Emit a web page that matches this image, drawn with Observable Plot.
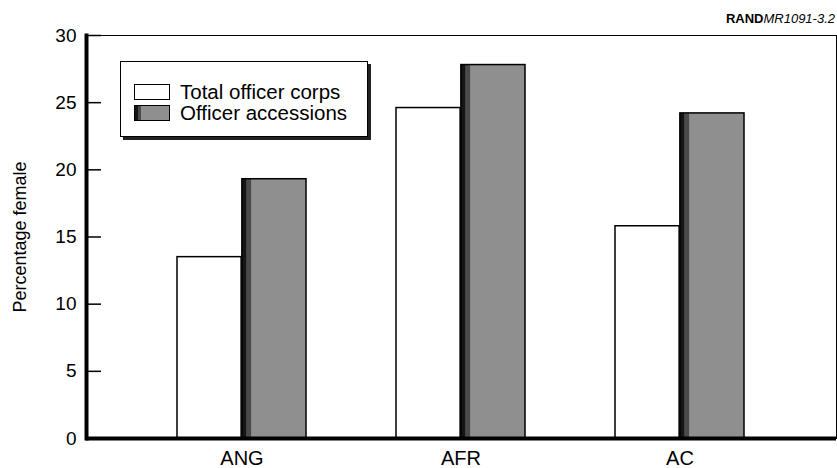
<!DOCTYPE html>
<html><head><meta charset="utf-8">
<script src="https://cdn.jsdelivr.net/npm/d3@7"></script>
<script src="https://cdn.jsdelivr.net/npm/@observablehq/plot@0.6"></script>
<style>
body{margin:0;background:#fff;font-family:"Liberation Sans",Arial,Helvetica,sans-serif;color:#000;}
#wrap{position:relative;width:837px;height:468px;overflow:hidden;}
#wrap svg{position:absolute;left:0;top:0;}
#rand{position:absolute;right:2px;top:12px;font-size:13px;line-height:13px;white-space:nowrap;}
#rand i{font-weight:normal;}
#legshadow{position:absolute;left:123px;top:64px;width:248px;height:76px;background:#222;}
#legend{position:absolute;left:120px;top:61px;width:246px;height:74px;border:1px solid #000;background:#fff;}
.row{position:absolute;left:13px;height:22px;display:flex;align-items:center;font-size:20.5px;line-height:22px;white-space:nowrap;}
.sw{position:relative;width:34px;height:14px;border:1px solid #000;margin-right:10px;box-sizing:content-box;background:#fff;}
.sw.acc{background:#8f8f8f;}
.sw.acc .e1{position:absolute;left:0;top:0;width:6px;height:14px;background:#4a4a4a;}
.sw.acc .e2{position:absolute;left:0;top:0;width:3px;height:14px;background:#151515;}
</style></head>
<body><div id="wrap"></div>
<script>
const categories = ["ANG", "AFR", "AC"];
const seriesNames = ["Total officer corps", "Officer accessions"];
const totalOfficerCorps = [13.5, 24.6, 15.8];
const officerAccessions = [19.3, 27.8, 24.2];
const yTicks = [0, 5, 10, 15, 20, 25, 30];
const yLabel = "Percentage female";
const sourceLabel = ["RAND", "MR1091-3.2"];

const rows = categories.map((c, i) => ({category: c, total: totalOfficerCorps[i], accessions: officerAccessions[i]}));

const W = 837, H = 468, mL = 86, mR = 1, mT = 35, mB = 30;
const pad = 0.41;
const half = d3.scaleBand().domain(categories).range([mL, W - mR]).paddingInner(pad).paddingOuter(pad).bandwidth() / 2;

const plot = Plot.plot({
  width: W, height: H,
  marginLeft: mL, marginRight: mR, marginTop: mT, marginBottom: mB,
  style: {fontFamily: "Liberation Sans, Arial, Helvetica, sans-serif", fontSize: "20px", color: "black", background: "white", overflow: "visible"},
  x: {domain: categories, paddingInner: pad, paddingOuter: pad, label: null, tickSize: 0, tickPadding: 12},
  y: {domain: [0, 30], label: null},
  marks: [
    Plot.barY(rows, {x: "category", y: "total", fill: "white", stroke: "black", strokeWidth: 1.5, insetRight: half}),
    Plot.barY(rows, {x: "category", y: "accessions", fill: "#8f8f8f", insetLeft: half}),
    Plot.barY(rows, {x: "category", y: "accessions", fill: "#4a4a4a", insetLeft: half, insetRight: half - 10}),
    Plot.barY(rows, {x: "category", y: "accessions", fill: "#151515", insetLeft: half, insetRight: half - 5}),
    Plot.barY(rows, {x: "category", y: "accessions", fill: "none", stroke: "black", strokeWidth: 1.5, insetLeft: half}),
    Plot.frame({stroke: "black", strokeWidth: 1}),
    Plot.frame({anchor: "left", stroke: "black", strokeWidth: 4}),
    Plot.ruleY([0], {stroke: "black", strokeWidth: 4}),
    Plot.axisY({ticks: yTicks, anchor: "right", frameAnchor: "left", tickSize: 14, tickPadding: 0, strokeWidth: 1.5, tickFormat: () => "", label: null}),
    Plot.axisY({ticks: yTicks, tickSize: 0, tickPadding: 10, fontSize: 19, label: null}),
    Plot.text([yLabel], {frameAnchor: "left", textAnchor: "middle", rotate: -90, dx: -66, fontSize: 18, fill: "black"})
  ]
});

const wrap = document.getElementById("wrap");
wrap.appendChild(plot);

const rand = document.createElement("div");
rand.id = "rand";
rand.innerHTML = `<b>${sourceLabel[0]}</b><i>${sourceLabel[1]}</i>`;
wrap.appendChild(rand);

const shadow = document.createElement("div");
shadow.id = "legshadow";
wrap.appendChild(shadow);

const legend = document.createElement("div");
legend.id = "legend";
legend.innerHTML = seriesNames.map((s, i) =>
  `<div class="row" style="top:${i === 0 ? 19 : 40}px"><div class="sw ${i === 0 ? "tot" : "acc"}">${i === 0 ? "" : '<div class="e1"></div><div class="e2"></div>'}</div><span>${s}</span></div>`).join("");
wrap.appendChild(legend);
</script>
</body></html>
